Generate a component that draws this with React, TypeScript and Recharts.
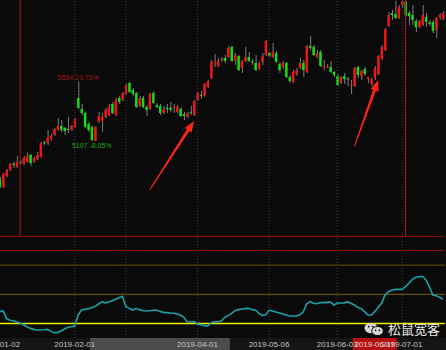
import {
  Bar,
  ComposedChart,
  Line,
  ReferenceArea,
  ReferenceDot,
  ReferenceLine,
  XAxis,
  YAxis,
} from "recharts";

// trading days, 2019-01-02 .. 2019-07-17
const dates = [
  "2019-01-02", "2019-01-03", "2019-01-04", "2019-01-07", "2019-01-08", "2019-01-09", "2019-01-10", "2019-01-11",
  "2019-01-14", "2019-01-15", "2019-01-16", "2019-01-17", "2019-01-18", "2019-01-21", "2019-01-22", "2019-01-23",
  "2019-01-24", "2019-01-25", "2019-01-28", "2019-01-29", "2019-01-30", "2019-01-31",
  "2019-02-01", "2019-02-11", "2019-02-12", "2019-02-13", "2019-02-14", "2019-02-15", "2019-02-18", "2019-02-19",
  "2019-02-20", "2019-02-21", "2019-02-22", "2019-02-25", "2019-02-26", "2019-02-27", "2019-02-28",
  "2019-03-01", "2019-03-04", "2019-03-05", "2019-03-06", "2019-03-07", "2019-03-08", "2019-03-11", "2019-03-12",
  "2019-03-13", "2019-03-14", "2019-03-15", "2019-03-18", "2019-03-19", "2019-03-20", "2019-03-21", "2019-03-22",
  "2019-03-25", "2019-03-26", "2019-03-27", "2019-03-28", "2019-03-29",
  "2019-04-01", "2019-04-02", "2019-04-03", "2019-04-04", "2019-04-08", "2019-04-09", "2019-04-10", "2019-04-11",
  "2019-04-12", "2019-04-15", "2019-04-16", "2019-04-17", "2019-04-18", "2019-04-19", "2019-04-22", "2019-04-23",
  "2019-04-24", "2019-04-25", "2019-04-26", "2019-04-29", "2019-04-30",
  "2019-05-06", "2019-05-07", "2019-05-08", "2019-05-09", "2019-05-10", "2019-05-13", "2019-05-14", "2019-05-15",
  "2019-05-16", "2019-05-17", "2019-05-20", "2019-05-21", "2019-05-22", "2019-05-23", "2019-05-24", "2019-05-27",
  "2019-05-28", "2019-05-29", "2019-05-30", "2019-05-31",
  "2019-06-03", "2019-06-04", "2019-06-05", "2019-06-06", "2019-06-10", "2019-06-11", "2019-06-12", "2019-06-13",
  "2019-06-14", "2019-06-17", "2019-06-18", "2019-06-19", "2019-06-20", "2019-06-21", "2019-06-24", "2019-06-25",
  "2019-06-26", "2019-06-27", "2019-06-28",
  "2019-07-01", "2019-07-02", "2019-07-03", "2019-07-04", "2019-07-05", "2019-07-08", "2019-07-09", "2019-07-10",
  "2019-07-11", "2019-07-12", "2019-07-15", "2019-07-16", "2019-07-17",
];

const opens = [
  4820, 4760, 4843, 4888, 4934, 4911, 4949, 4934, 4949, 5001,
  4949, 4971, 4986, 5096, 5092, 5122, 5152, 5190, 5220, 5205,
  5197, 5190, 5212, 5431, 5348, 5318, 5235, 5212, 5107, 5250,
  5258, 5288, 5303, 5386, 5303, 5431, 5416, 5461, 5544, 5491,
  5469, 5371, 5431, 5363, 5348, 5469, 5378, 5371, 5318, 5356,
  5356, 5356, 5326, 5348, 5310, 5288, 5326, 5303, 5416, 5454,
  5446, 5514, 5582, 5695, 5672, 5718, 5733, 5740, 5816, 5710,
  5748, 5657, 5710, 5740, 5706, 5695, 5650, 5703, 5755, 5770,
  5740, 5770, 5687, 5665, 5695, 5589, 5552, 5612, 5657, 5695,
  5627, 5823, 5816, 5740, 5778, 5669, 5665, 5665, 5627, 5597,
  5544, 5597, 5578, 5525, 5522, 5665, 5597, 5650, 5574, 5537,
  5582, 5612, 5725, 5793, 5974, 6072, 6064, 6034, 6132, 6155,
  6072, 6057, 6012, 5966, 5982, 6042, 6000, 6004, 5944, 6042,
  6027,
];

const highs = [
  4835, 4866, 4896, 4941, 4949, 4994, 4964, 4994, 5016, 5009,
  4986, 5024, 5099, 5107, 5190, 5160, 5205, 5280, 5265, 5212,
  5288, 5228, 5280, 5554, 5386, 5326, 5250, 5220, 5220, 5326,
  5318, 5356, 5386, 5401, 5431, 5446, 5476, 5537, 5552, 5506,
  5476, 5446, 5446, 5378, 5469, 5484, 5393, 5386, 5371, 5386,
  5401, 5386, 5378, 5363, 5326, 5326, 5371, 5416, 5476, 5484,
  5544, 5567, 5718, 5763, 5733, 5740, 5755, 5823, 5823, 5770,
  5755, 5718, 5816, 5778, 5725, 5755, 5703, 5770, 5868, 5778,
  5846, 5785, 5703, 5710, 5703, 5604, 5642, 5657, 5733, 5718,
  5831, 5899, 5831, 5793, 5793, 5718, 5687, 5710, 5635, 5612,
  5597, 5620, 5589, 5567, 5665, 5672, 5642, 5665, 5589, 5582,
  5672, 5755, 5831, 5959, 6080, 6095, 6165, 6132, 6168, 6162,
  6087, 6132, 6027, 6019, 6132, 6072, 6019, 6019, 6042, 6072,
  6087,
];

const lows = [
  4752, 4752, 4835, 4881, 4903, 4903, 4934, 4926, 4941, 4918,
  4941, 4964, 4979, 5077, 5077, 5107, 5145, 5182, 5175, 5152,
  5167, 5182, 5205, 5348, 5303, 5205, 5175, 5107, 5112, 5243,
  5175, 5280, 5295, 5310, 5295, 5386, 5408, 5454, 5469, 5446,
  5356, 5363, 5356, 5295, 5341, 5386, 5356, 5303, 5310, 5318,
  5326, 5318, 5318, 5288, 5265, 5280, 5303, 5295, 5408, 5424,
  5439, 5506, 5574, 5665, 5665, 5703, 5695, 5733, 5703, 5680,
  5635, 5620, 5703, 5703, 5680, 5635, 5642, 5680, 5748, 5740,
  5733, 5695, 5620, 5650, 5582, 5544, 5544, 5597, 5650, 5589,
  5620, 5793, 5748, 5733, 5665, 5642, 5657, 5620, 5589, 5522,
  5537, 5537, 5522, 5461, 5514, 5582, 5567, 5597, 5544, 5522,
  5567, 5604, 5718, 5785, 5966, 6019, 6027, 6027, 6110, 6049,
  5982, 5982, 5929, 5959, 5974, 5966, 5974, 5921, 5883, 6019,
  6019,
];

const closes = [
  4760, 4858, 4888, 4934, 4926, 4949, 4945, 4979, 4994, 4941,
  4979, 5001, 5092, 5088, 5130, 5145, 5197, 5220, 5190, 5182,
  5190, 5220, 5273, 5356, 5318, 5212, 5190, 5114, 5212, 5295,
  5288, 5341, 5363, 5318, 5416, 5401, 5469, 5529, 5476, 5461,
  5363, 5431, 5363, 5341, 5461, 5393, 5363, 5318, 5348, 5348,
  5341, 5363, 5363, 5295, 5295, 5318, 5318, 5408, 5469, 5450,
  5537, 5559, 5703, 5703, 5710, 5725, 5710, 5808, 5710, 5755,
  5642, 5710, 5740, 5710, 5699, 5642, 5695, 5748, 5861, 5748,
  5778, 5703, 5642, 5695, 5589, 5559, 5627, 5642, 5695, 5642,
  5823, 5808, 5755, 5770, 5672, 5672, 5672, 5627, 5604, 5529,
  5589, 5574, 5571, 5529, 5657, 5604, 5635, 5612, 5589, 5574,
  5657, 5748, 5816, 5951, 6057, 6057, 6034, 6117, 6162, 6057,
  6049, 6019, 5966, 6012, 6057, 6004, 5989, 5936, 6034, 6057,
  6072,
];

// lower panel oscillator
const indicator = [
  32.1, 32.8, 24.9, 23.2, 22.8, 21.4, 20.4, 18.7, 16.6, 14.9,
  13.9, 13.2, 13.2, 13.5, 13.9, 11.8, 10.5, 10.8, 12.2, 14.2,
  16.0, 16.6, 17.3, 28.7, 33.8, 34.5, 35.2, 36.2, 37.6, 40.0,
  42.4, 41.0, 42.0, 43.4, 44.8, 46.5, 47.9, 37.2, 35.5, 33.8,
  35.5, 34.2, 33.1, 32.8, 33.1, 33.5, 33.8, 32.4, 31.4, 31.1,
  30.7, 30.4, 29.7, 28.7, 26.3, 21.4, 21.4, 21.8, 19.4, 18.7,
  17.7, 17.3, 20.8, 21.8, 21.8, 22.5, 26.3, 28.0, 30.4, 33.1,
  34.2, 34.8, 35.2, 35.5, 34.2, 33.8, 30.4, 28.3, 29.0, 33.5,
  32.8, 31.7, 30.7, 29.7, 28.7, 27.6, 27.6, 27.6, 29.0, 31.7,
  40.0, 42.7, 40.7, 40.3, 41.4, 41.4, 41.7, 42.0, 39.0, 41.0,
  41.0, 41.0, 42.4, 40.7, 39.0, 36.6, 35.2, 32.1, 28.7, 28.7,
  32.1, 36.6, 40.7, 49.3, 52.7, 54.1, 55.1, 55.1, 55.1, 57.8,
  61.3, 65.4, 67.5, 68.1, 68.5, 64.7, 57.8, 49.3, 48.6, 46.9,
  44.8,
];

const levels = [95, 80, 50, 20];
const levelColors = ["#9c0a0a", "#6a5600", "#7c6700", "#f2f200"];

const gridDates = ["2019-02-01", "2019-03-01", "2019-04-01", "2019-05-06", "2019-06-03", "2019-07-01"];
const markDates = ["2019-01-10", "2019-07-02"];
const axisLabels = ["2019-01-02", "2019-02-01", "2019-04-01", "2019-05-06", "2019-06-03", "2019-07-01"];
const selectedDate = "2019-06-19";
const shadedRange = ["2019-02-15", "2019-04-15"];

const maxMark = { date: "2019-02-11", price: 5554, text: "5554 23.73%" };
const minMark = { date: "2019-02-15", price: 5107, text: "5107 -8.05%" };

const arrows = [
  [{ x: "2019-03-12", y: 4737 }, { x: "2019-03-29", y: 5258 }],
  [{ x: "2019-06-11", y: 5064 }, { x: "2019-06-20", y: 5567 }],
];

const rows = dates.map((date, i) => ({
  date,
  open: opens[i],
  high: highs[i],
  low: lows[i],
  close: closes[i],
  ind: indicator[i],
}));

const BG = "#0a0a0a";
const UP = "#f01414";
const DOWN = "#12e012";
const WICK = "#7e7e7e";
const GRID = "#3c3c3c";
const FONT = "'Liberation Sans', Arial, sans-serif";

const BAND = 3.41;
const CHART_W = dates.length * BAND;
const SHIFT = -BAND / 2;

const Candle = (props: any) => {
  const { x, y, width, height, payload } = props;
  const { open, close, high, low } = payload;
  const top = Math.min(y, y + height);
  const h = Math.abs(height);
  const yOf = (v: number) => top + ((high - v) / (high - low)) * h;
  const cx = x + width / 2;
  const bodyTop = yOf(Math.max(open, close));
  const bodyH = Math.max(1, Math.abs(yOf(open) - yOf(close)));
  return (
    <g>
      <line x1={cx + 0.5} x2={cx + 0.5} y1={top} y2={top + h} stroke={WICK} strokeWidth={1} />
      <rect x={cx - 1.2} y={bodyTop} width={2.4} height={bodyH} fill={close >= open ? UP : DOWN} />
    </g>
  );
};

const Arrow = (props: any) => {
  const { x1, y1, x2, y2 } = props;
  const dx = x2 - x1;
  const dy = y2 - y1;
  const len = Math.hypot(dx, dy) || 1;
  const ux = dx / len;
  const uy = dy / len;
  const nx = -uy;
  const ny = ux;
  const bx = x2 - ux * 11;
  const by = y2 - uy * 11;
  const pts = [
    [x1 + nx * 0.5, y1 + ny * 0.5],
    [bx + nx * 1.5, by + ny * 1.5],
    [bx + nx * 4.2, by + ny * 4.2],
    [x2, y2],
    [bx - nx * 4.2, by - ny * 4.2],
    [bx - nx * 1.5, by - ny * 1.5],
    [x1 - nx * 0.5, y1 - ny * 0.5],
  ];
  return <polygon points={pts.map((p) => p.join(",")).join(" ")} fill="#ff2418" />;
};

const SelectedTag = (props: any) => {
  const vb = props.viewBox || {};
  const cx = vb.x;
  const cy = vb.y + vb.height / 2;
  return (
    <g>
      <rect x={cx - 22} y={vb.y} width={44} height={vb.height} fill="#b3100f" />
      <text x={cx} y={cy} dy={3} textAnchor="middle" fontSize={8} fontFamily={FONT} fill="#f4d4d4">
        {selectedDate}
      </text>
    </g>
  );
};

const WeChatMark = () => (
  <svg width={20} height={14} style={{ position: "absolute", left: 364, top: 322 }}>
    <ellipse cx={7} cy={6} rx={6.5} ry={5.3} fill="#d6d6d6" />
    <ellipse cx={13.5} cy={9} rx={5.8} ry={4.6} fill="#d6d6d6" stroke={BG} strokeWidth={1} />
    <circle cx={4.8} cy={4.6} r={0.9} fill={BG} />
    <circle cx={8.8} cy={4.6} r={0.9} fill={BG} />
    <circle cx={11.6} cy={8.4} r={0.8} fill={BG} />
    <circle cx={15.4} cy={8.4} r={0.8} fill={BG} />
  </svg>
);

export default function App() {
  const chartStyle = { position: "absolute" as const, left: SHIFT };
  return (
    <div
      style={{
        position: "absolute",
        left: 0,
        top: 0,
        width: 446,
        height: 350,
        background: BG,
        overflow: "hidden",
      }}
    >
      <div style={{ ...chartStyle, top: 0 }}>
        <ComposedChart width={CHART_W} height={236} data={rows} margin={{ top: 0, right: 0, bottom: 0, left: 0 }}>
          <XAxis dataKey="date" type="category" scale="band" hide />
          <YAxis type="number" domain={[4390, 6170]} allowDataOverflow hide />
          {gridDates.map((d) => (
            <ReferenceLine key={d} x={d} stroke={GRID} strokeDasharray="1 2" />
          ))}
          {markDates.map((d) => (
            <ReferenceLine key={d} x={d} stroke="#a81c1c" strokeWidth={1} />
          ))}
          <Bar
            dataKey={(d: any) => [d.low, d.high]}
            shape={<Candle />}
            isAnimationActive={false}
          />
          <ReferenceDot
            x={maxMark.date}
            y={maxMark.price}
            r={0}
            fill="none"
            stroke="none"
            label={{ value: maxMark.text, position: "top", offset: 2, fill: "#a31616", fontSize: 7, fontFamily: FONT }}
          />
          <ReferenceDot
            x={minMark.date}
            y={minMark.price}
            r={0}
            fill="none"
            stroke="none"
            label={{ value: minMark.text, position: "bottom", offset: 2, fill: "#22a622", fontSize: 7, fontFamily: FONT }}
          />
          {arrows.map((seg, i) => (
            <ReferenceLine key={i} segment={seg} shape={<Arrow />} />
          ))}
        </ComposedChart>
      </div>

      <div style={{ ...chartStyle, top: 236 }}>
        <ComposedChart width={CHART_W} height={102} data={rows} margin={{ top: 0, right: 0, bottom: 0, left: 0 }}>
          <XAxis dataKey="date" type="category" scale="band" hide />
          <YAxis type="number" domain={[5, 110]} allowDataOverflow hide />
          <ReferenceLine y={110} stroke="#b00c0c" strokeWidth={1.5} />
          {levels.map((v, i) => (
            <ReferenceLine key={v} y={v} stroke={levelColors[i]} strokeWidth={v === 20 ? 1.6 : 1} />
          ))}
          {gridDates.map((d) => (
            <ReferenceLine key={d} x={d} stroke={GRID} strokeDasharray="1 2" />
          ))}
          <Line
            type="linear"
            dataKey="ind"
            stroke="#1aa2a8"
            strokeWidth={1.6}
            dot={false}
            isAnimationActive={false}
          />
        </ComposedChart>
      </div>

      <div style={{ position: "absolute", left: 0, top: 338, width: 446, height: 12, background: "#151515" }} />
      <div style={{ ...chartStyle, top: 338 }}>
        <ComposedChart width={CHART_W} height={12} data={rows} margin={{ top: 0, right: 0, bottom: 0, left: 0 }}>
          <XAxis dataKey="date" type="category" scale="band" hide />
          <YAxis type="number" domain={[0, 110]} allowDataOverflow hide />
          {/* invisible carrier so the strip's axes get a domain */}
          <Line dataKey="ind" stroke="none" dot={false} activeDot={false} isAnimationActive={false} />
          <ReferenceArea
            x1={shadedRange[0]}
            x2={shadedRange[1]}
            y1={0}
            y2={110}
            fill="#4c4c4c"
            fillOpacity={1}
            stroke="none"
          />
          {axisLabels.map((d) => (
            <ReferenceLine
              key={d}
              x={d}
              stroke="none"
              label={{ value: d, position: "center", fill: "#c4c4c4", fontSize: 8, fontFamily: FONT }}
            />
          ))}
          <ReferenceLine x={selectedDate} stroke="none" label={(p: any) => <SelectedTag {...p} />} />
        </ComposedChart>
      </div>

      <WeChatMark />
      <div
        style={{
          position: "absolute",
          left: 388,
          top: 322,
          fontFamily: "'Noto Sans CJK SC', sans-serif",
          fontSize: 13,
          lineHeight: "13px",
          color: "#ececec",
          whiteSpace: "nowrap",
        }}
      >
        松鼠宽客
      </div>
    </div>
  );
}
